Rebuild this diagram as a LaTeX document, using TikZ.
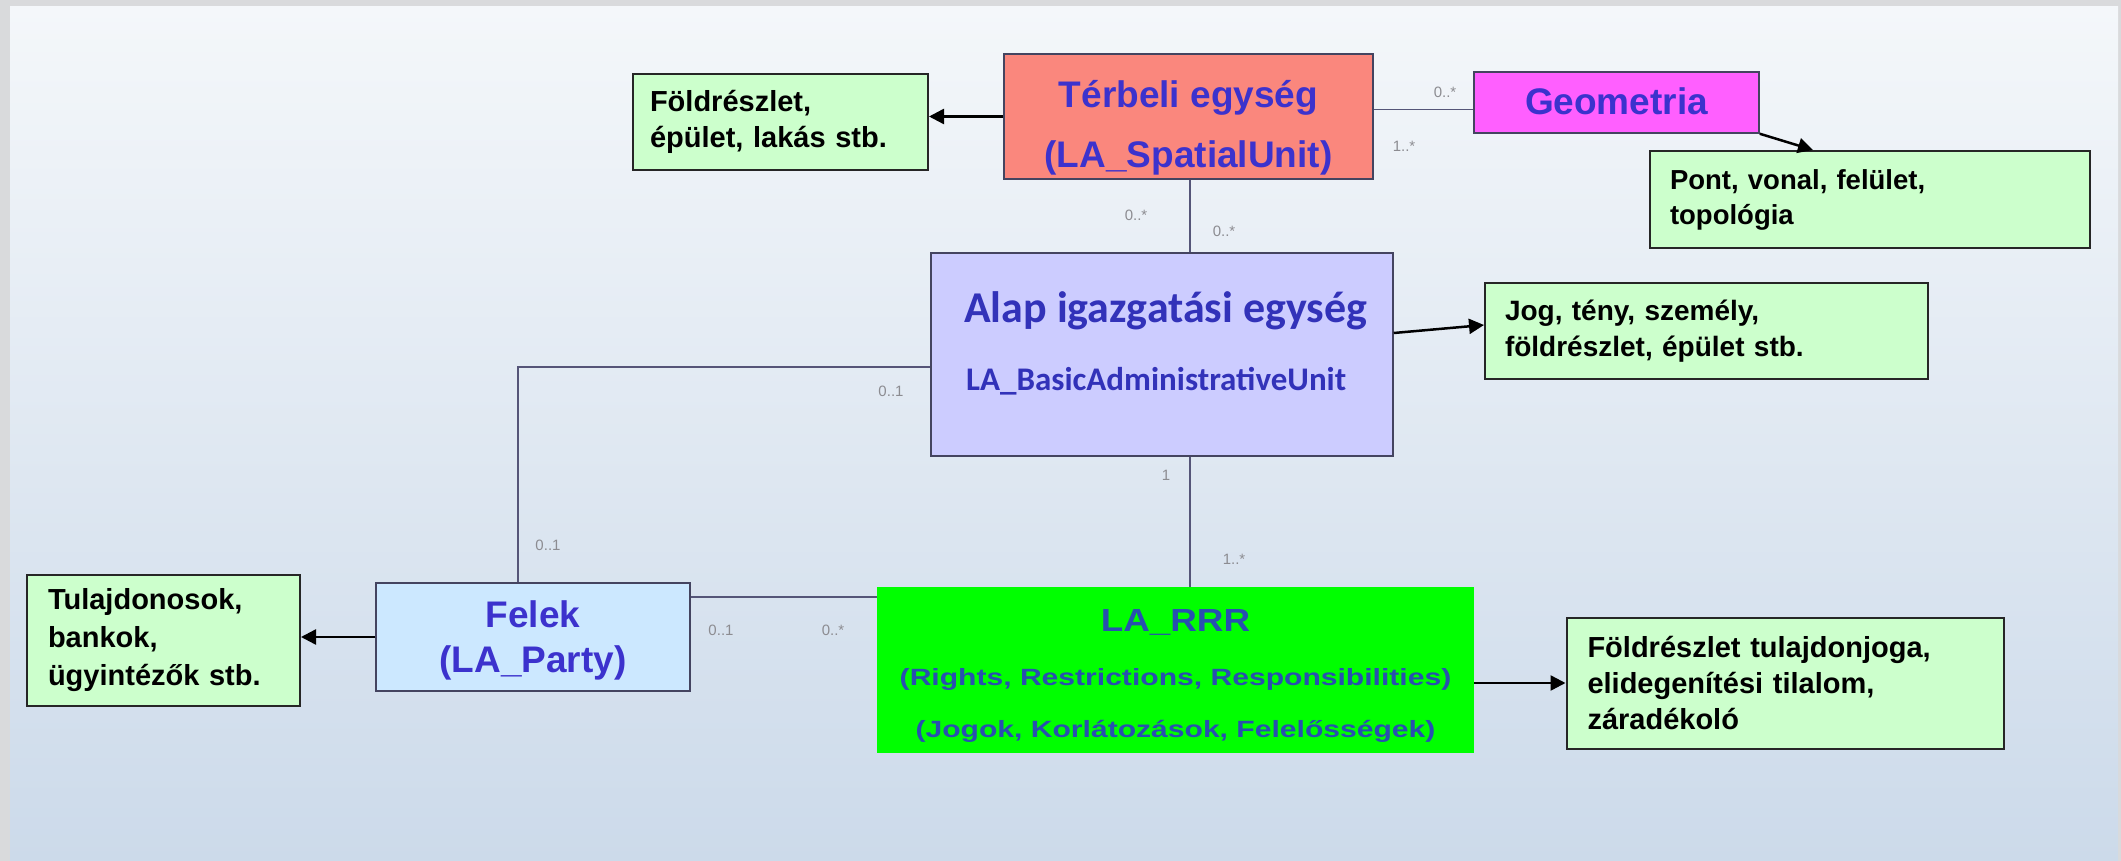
\documentclass[tikz,border=0pt]{standalone}
\usepackage{fontspec}
\setmainfont{Liberation Sans}
\newfontfamily\calfont{Carlito}
\newfontfamily\widefont[FakeStretch=1.15]{Liberation Sans}
\newfontfamily\widerfont[FakeStretch=1.28]{Liberation Sans}
\usetikzlibrary{arrows.meta,calc}
\definecolor{bordergray}{RGB}{217,218,220}
\definecolor{bgtop}{RGB}{244,247,250}
\definecolor{bgbot}{RGB}{204,218,234}
\definecolor{salmonfill}{RGB}{250,135,125}
\definecolor{magfill}{RGB}{255,95,255}
\definecolor{notefill}{RGB}{204,255,204}
\definecolor{alapfill}{RGB}{204,204,255}
\definecolor{felekfill}{RGB}{204,232,255}
\definecolor{rrrfill}{RGB}{0,255,0}
\definecolor{titleblue}{RGB}{60,50,205}
\definecolor{alapblue}{RGB}{50,50,185}
\definecolor{rrrblue}{RGB}{40,80,175}
\definecolor{linecol}{RGB}{85,85,120}
\definecolor{multcol}{RGB}{140,140,145}
\tikzset{
  clsbox/.style={draw=linecol!80!black, line width=1.5pt, rectangle, inner sep=0pt},
  ttl/.style={text=titleblue, font=\bfseries\fontsize{37}{44}\selectfont, inner sep=0pt, anchor=base},
  notebox/.style={draw=black!85, fill=notefill, line width=2pt, rectangle, inner ysep=0pt, align=left, font=\bfseries\fontsize{29}{36}\selectfont},
  conn/.style={draw=linecol, line width=1.6pt},
  arr/.style={draw=black, line width=2.5pt, -{Triangle[length=15pt,width=15pt]}},
  mult/.style={text=multcol, font=\fontsize{15}{18}\selectfont, inner sep=0pt}
}
\begin{document}
\begin{tikzpicture}[x=1pt,y=-1pt]
\useasboundingbox (0,0) rectangle (2121,861);
\fill[bordergray] (0,0) rectangle (2121,861);
\shade[top color=bgtop, bottom color=bgbot] (10,7) rectangle (2118,861);

% class boxes
\node[clsbox, fill=salmonfill, minimum width=369pt, minimum height=125pt] (terb) at (1188.5,116.5) {};
\node[ttl] (terbA) at (1188.5,108) {Térbeli egység};
\node[ttl] (terbB) at (1188.5,168) {(LA\_SpatialUnit)};
\node[clsbox, fill=magfill, minimum width=285pt, minimum height=61pt] (geom) at (1616.5,102.5) {};
\node[ttl] (geomA) at (1616.5,115) {Geometria};
\node[clsbox, fill=alapfill, minimum width=462pt, minimum height=203pt] (alap) at (1162,354.5) {};
\node[anchor=base west, text=alapblue, font=\calfont\bfseries\fontsize{44}{48}\selectfont, inner sep=0pt] (alapt) at (964,322) {Alap igazgatási egység};
\node[anchor=base west, text=alapblue, font=\calfont\bfseries\fontsize{33}{36}\selectfont, inner sep=0pt] (alaps) at (966,390) {LA\_BasicAdministrativeUnit};
\node[clsbox, fill=felekfill, minimum width=314pt, minimum height=108pt] (felek) at (533,637) {};
\node[ttl] (felekA) at (533,627) {Felek};
\node[ttl] (felekB) at (533,672) {(LA\_Party)};
\node[rectangle, fill=rrrfill, inner sep=0pt, minimum width=597pt, minimum height=166pt] (rrr) at (1175.5,670) {};
\node[text=rrrblue, font=\widefont\bfseries\fontsize{32}{36}\selectfont, inner sep=0pt] (rrrt) at (1175.5,622) {LA\_RRR};
\node[text=rrrblue, font=\widerfont\bfseries\fontsize{23.5}{28}\selectfont, inner sep=0pt] (rrrs) at (1175.5,679) {(Rights, Restrictions, Responsibilities)};
\node[text=rrrblue, font=\widerfont\bfseries\fontsize{23.5}{28}\selectfont, inner sep=0pt] (rrrj) at (1175.5,731) {(Jogok, Korlátozások, Felelősségek)};

% notes
\node[notebox, inner xsep=17pt, text width=261pt, minimum height=96pt] (fold1) at (780.5,122) {Földrészlet,\\épület, lakás stb.};
\node[notebox, inner xsep=20pt, text width=400pt, minimum height=97pt, font=\bfseries\fontsize{27.5}{35}\selectfont] (pont) at (1870,199.5) {Pont, vonal, felület,\\topológia};
\node[notebox, inner xsep=20pt, text width=403pt, minimum height=96pt, font=\bfseries\fontsize{28}{36}\selectfont] (jog) at (1706.5,331) {Jog, tény, személy,\\földrészlet, épület stb.};
\node[notebox, inner xsep=21pt, text width=231pt, minimum height=131pt, font=\bfseries\fontsize{29}{38}\selectfont] (tulaj) at (163.5,640.5) {Tulajdonosok,\\bankok,\\ügyintézők stb.};
\node[notebox, inner xsep=21pt, text width=395pt, minimum height=131pt, font=\bfseries\fontsize{29}{36}\selectfont] (ftul) at (1785,683) {Földrészlet tulajdonjoga,\\elidegenítési tilalom,\\záradékoló};

% associations
\draw[conn] ([yshift=-7pt]geom.west) -- ([yshift=-7pt]geom.west -| terb.east);
\draw[conn] ([xshift=1.5pt]terb.south) -- ([xshift=1.5pt]terb.south |- alap.north);
\draw[conn] ([xshift=1.5pt]terb.south |- alap.south) -- ([xshift=1.5pt]terb.south |- rrr.north);
\draw[conn] ([yshift=-12.5pt]alap.west) -| ([xshift=-15pt]felek.north);
\draw[conn] ([yshift=-15pt]felek.north east) -- ([yshift=-15pt]felek.north east -| rrr.west);

% arrows to notes
\draw[arr] (terb.west) -- (terb.west -| fold1.east);
\draw[arr] (geom.south east) -- ([xshift=-57pt]pont.north);
\draw[arr] ([yshift=21.5pt]alap.east) -- ([yshift=6pt]jog.west);
\draw[arr] (felek.west) -- (felek.west -| tulaj.east);
\draw[arr] (rrr.east |- ftul.west) -- (ftul.west);

% multiplicities
\node[mult] (m1) at (1445,92) {0..*};
\node[mult] (m2) at (1404,146) {1..*};
\node[mult] (m3) at (1136,215) {0..*};
\node[mult] (m4) at (1224,231) {0..*};
\node[mult] (m5) at (891,391) {0..1};
\node[mult] (m6) at (548,545) {0..1};
\node[mult] (m7) at (1166,475) {1};
\node[mult] (m8) at (1234,559) {1..*};
\node[mult] (m9) at (721,630) {0..1};
\node[mult] (m10) at (833,630) {0..*};
\end{tikzpicture}
\end{document}
